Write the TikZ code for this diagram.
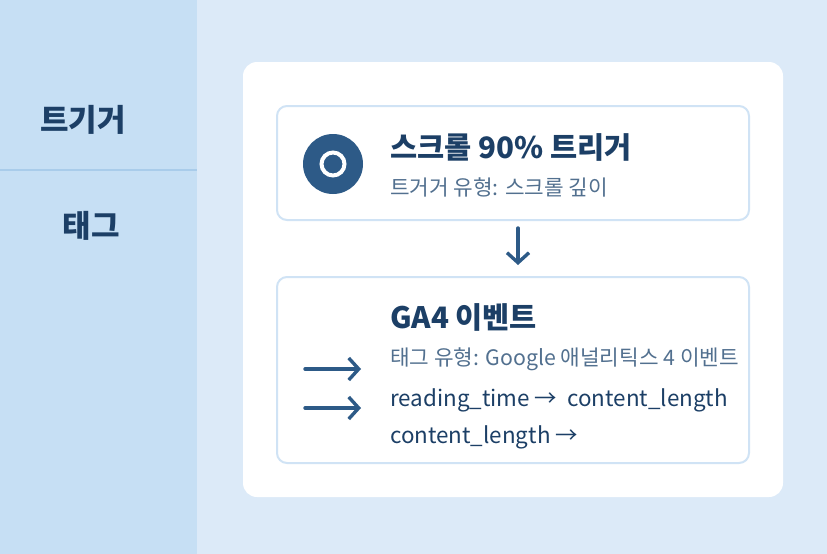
\documentclass[tikz,border=0pt]{standalone}
\usepackage{fontspec}
\setmainfont{Noto Sans CJK KR}
\usetikzlibrary{arrows.meta}
\definecolor{sidebg}{HTML}{C6DFF4}
\definecolor{mainbg}{HTML}{DCEAF8}
\definecolor{divline}{HTML}{A9CCEA}
\definecolor{boxline}{HTML}{D0E3F5}
\definecolor{navy}{HTML}{1C3F66}
\definecolor{subtxt}{HTML}{52708F}
\definecolor{iconblue}{HTML}{2D5A87}

\begin{document}
\begin{tikzpicture}[x=1pt,y=-1pt,
    sidelabel/.style={text=navy,font=\fontsize{31}{36}\selectfont\bfseries},
    cardbox/.style={draw=boxline,line width=2pt,fill=white,rounded corners=10pt,minimum width=472pt},
    title/.style={anchor=base west,inner sep=0pt,text=navy,font=\fontsize{29.5}{35}\selectfont\bfseries},
    subline/.style={anchor=base west,inner sep=0pt,text=subtxt,font=\fontsize{21.3}{26}\selectfont},
    codeline/.style={anchor=base west,inner sep=0pt,text=navy,font=\fontsize{22.4}{27}\selectfont},
    flow/.style={draw=iconblue,line width=3.4pt,line cap=round,-{Straight Barb[length=10pt,width=22pt,line width=3.4pt]}}]
  \useasboundingbox (0,0) rectangle (827,554);
  % backgrounds
  \fill[mainbg] (0,0) rectangle (827,554);
  \fill[sidebg] (0,0) rectangle (197,554);
  \draw[divline,line width=2pt] (0,170) -- (197,170);
  \node[sidelabel] (trig) at (83,120) {트기거};
  \node[sidelabel] (tag) at (91,226) {태그};
  % white card
  \fill[white,rounded corners=14pt] (243,62) rectangle (783,497);
  % trigger box
  \node[cardbox,minimum height=114pt] (trigbox) at (513,163) {};
  \fill[iconblue] (333,164) circle (30pt);
  \draw[white,line width=4pt] (333,164) circle (11.5pt);
  \node[title] (trigtitle) at (390,158) {스크롤 90\% 트리거};
  \node[subline] (trigsub) at (390,195) {트거거 유형: 스크롤 깊이};
  % tag box
  \node[cardbox,minimum height=186pt] (tagbox) at (513,370) {};
  \node[title] (tagtitle) at (390,328) {GA4 이벤트};
  \node[subline] (tagsub) at (390,365) {태그 유형: Google 애널리틱스 4 이벤트};
  \node[codeline] (map1) at (390,406) {reading\_time → \ content\_length};
  \node[codeline] (map2) at (390,443) {content\_length →};
  % arrows
  \draw[flow] (trigbox.south) ++(5,7) -- ([xshift=5pt,yshift=11pt]tagbox.north);
  \coordinate (a1) at (305,369);
  \coordinate (a2) at (305,408);
  \draw[flow] (a1) -- ++(56,0);
  \draw[flow] (a2) -- ++(56,0);
\end{tikzpicture}
\end{document}
